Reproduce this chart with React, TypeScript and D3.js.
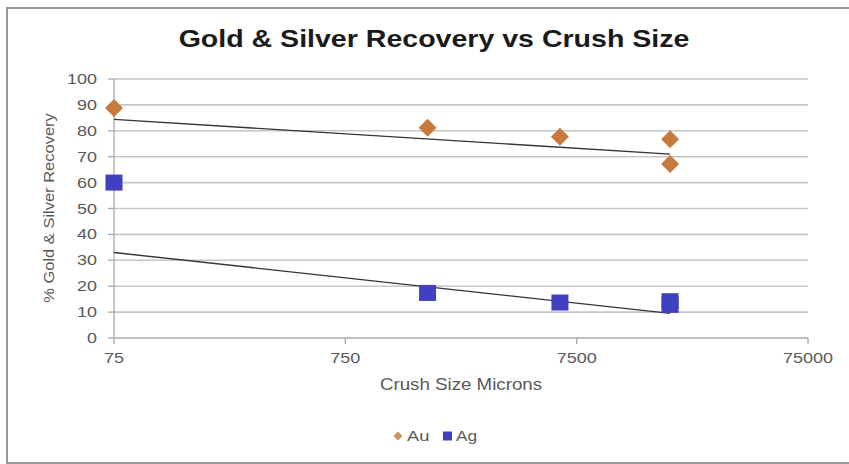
import React from 'react';
import * as d3 from 'd3';

// crush size (microns) and recovery (%)
const auSize = [75, 1700, 6350, 19000, 19000];
const auRecovery = [88.8, 81.2, 77.7, 76.7, 67.2];
const agSize = [75, 1700, 6350, 19000, 19000];
const agRecovery = [60.0, 17.4, 13.7, 14.2, 12.8];

// trend line ends
const trendSize = [75, 19000];
const auTrend = [84.4, 71.0];
const agTrend = [33.0, 9.5];

const xTicks = [75, 750, 7500, 75000];
const yTicks = [0, 10, 20, 30, 40, 50, 60, 70, 80, 90, 100];

const W = 849;
const H = 464;
const PLOT = { left: 114, right: 808, top: 79, bottom: 338 };

const AU_COLOR = '#c87a3c';
const AG_COLOR = '#4040c0';
const GRID = '#c6c6c6';
const AXIS = '#a8a8a8';
const LABEL = '#595959';
const FONT = 'Arial, "Liberation Sans", sans-serif';

// the picture's text is stretched sideways, so every label gets a small x scale
const Label: React.FC<{
  x: number; y: number; sx: number; size: number; anchor?: string;
  color?: string; weight?: string; rotate?: number; children: React.ReactNode;
}> = ({ x, y, sx, size, anchor = 'middle', color = LABEL, weight = 'normal', rotate = 0, children }) => (
  <g transform={`translate(${x},${y}) rotate(${rotate}) scale(${sx},1)`}>
    <text
      textAnchor={anchor}
      fontSize={size}
      fontFamily={FONT}
      fontWeight={weight}
      fill={color}
    >
      {children}
    </text>
  </g>
);

const diamond = (cx: number, cy: number, r: number) =>
  `M${cx},${cy - r}L${cx + r},${cy}L${cx},${cy + r}L${cx - r},${cy}Z`;

const App: React.FC = () => {
  const x = d3.scaleLog().domain([75, 75000]).range([PLOT.left, PLOT.right]);
  const y = d3.scaleLinear().domain([0, 100]).range([PLOT.bottom, PLOT.top]);

  const line = d3.line<number>()
    .x((_, i) => x(trendSize[i]))
    .y(d => y(d));

  return (
    <svg
      width={W}
      height={H}
      style={{ position: 'absolute', left: 0, top: 0, display: 'block', background: '#fff' }}
    >
      <rect x={7} y={8} width={W} height={455} fill="#fff" stroke="#9a9a9a" strokeWidth={2} />

      <Label x={434} y={47} sx={1.19} size={24} weight="bold" color="#1a1a1a">
        Gold &amp; Silver Recovery vs Crush Size
      </Label>

      {/* grid */}
      {yTicks.map(t => (
        <line key={`g${t}`} x1={PLOT.left} x2={PLOT.right} y1={y(t)} y2={y(t)}
          stroke={t === 0 ? AXIS : GRID} strokeWidth={1.6} />
      ))}

      {/* y axis */}
      <line x1={PLOT.left} x2={PLOT.left} y1={PLOT.top} y2={PLOT.bottom} stroke={AXIS} strokeWidth={1.3} />
      {yTicks.map(t => (
        <g key={`y${t}`}>
          <line x1={PLOT.left - 6} x2={PLOT.left} y1={y(t)} y2={y(t)} stroke={AXIS} strokeWidth={1.3} />
          <Label x={97} y={y(t) + 5} sx={1.2} size={15} anchor="end">{t}</Label>
        </g>
      ))}

      {/* x axis ticks */}
      {xTicks.map(t => (
        <g key={`x${t}`}>
          <line x1={x(t)} x2={x(t)} y1={PLOT.bottom} y2={PLOT.bottom + 6} stroke={AXIS} strokeWidth={1.3} />
          <Label x={x(t)} y={363} sx={1.2} size={15}>{t}</Label>
        </g>
      ))}

      <Label x={461} y={390} sx={1.17} size={16}>Crush Size Microns</Label>
      <Label x={53.5} y={208} sx={1.1} size={15} rotate={-90}>% Gold &amp; Silver Recovery</Label>

      {/* trend lines */}
      <path d={line(auTrend) ?? ''} fill="none" stroke="#333" strokeWidth={1.4} />
      <path d={line(agTrend) ?? ''} fill="none" stroke="#333" strokeWidth={1.4} />

      {/* markers */}
      {auSize.map((s, i) => (
        <path key={`au${i}`} d={diamond(x(s), y(auRecovery[i]), 9)} fill={AU_COLOR} />
      ))}
      {agSize.map((s, i) => (
        <rect key={`ag${i}`} x={x(s) - 8.5} y={y(agRecovery[i]) - 8} width={17} height={16} fill={AG_COLOR} />
      ))}

      {/* legend */}
      <path d={diamond(398, 436, 4.5)} fill="#c8925c" />
      <Label x={407} y={441} sx={1.22} size={15} anchor="start">Au</Label>
      <rect x={443} y={431.5} width={9} height={9} fill={AG_COLOR} />
      <Label x={456} y={441} sx={1.15} size={15} anchor="start">Ag</Label>
    </svg>
  );
};

export default App;
